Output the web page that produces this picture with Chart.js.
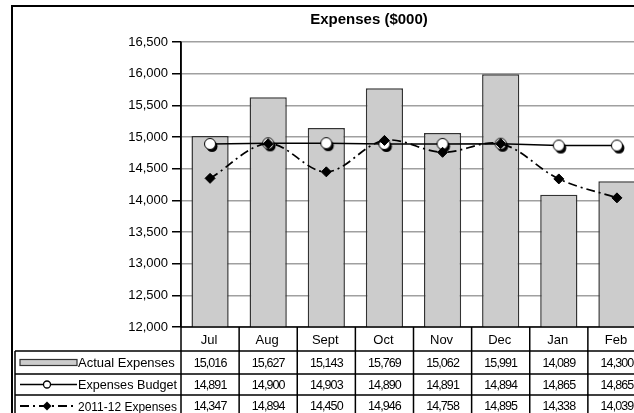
<!DOCTYPE html>
<html>
<head>
<meta charset="utf-8">
<script src="https://cdn.jsdelivr.net/npm/chart.js@4.4.0/dist/chart.umd.min.js"></script>
<style>
  html, body { margin: 0; padding: 0; background: #fff; overflow: hidden; }
  #wrap { width: 634px; height: 413px; overflow: hidden; }
  canvas { display: block; }
</style>
</head>
<body>
<div id="wrap"><canvas id="chart" width="660" height="413"></canvas></div>
<script>
const months = ["Jul", "Aug", "Sept", "Oct", "Nov", "Dec", "Jan", "Feb"];
const actualExpenses = [15016, 15627, 15143, 15769, 15062, 15991, 14089, 14300];
const expensesBudget = [14891, 14900, 14903, 14890, 14891, 14894, 14865, 14865];
const prevYearExpenses = [14347, 14894, 14450, 14946, 14758, 14895, 14338, 14039];
const seriesNames = ["Actual Expenses", "Expenses Budget", "2011-12 Expenses"];
const chartTitle = "Expenses ($000)";
const yMin = 12000, yMax = 16500, yStep = 500;

const FONT = "'Liberation Sans', Arial, sans-serif";
const BAR_FILL = "#cccccc";
const BAR_EDGE = "#333333";
const DASH = [9, 4, 2, 4];

function fmt(v) {
  return v.toLocaleString("en-US");
}

// white circle with a black drop shadow, like the Excel marker
function makeBudgetMarker() {
  const c = document.createElement("canvas");
  c.width = 20;
  c.height = 20;
  const g = c.getContext("2d");
  g.fillStyle = "#000";
  g.beginPath();
  g.arc(12, 12.5, 5.5, 0, Math.PI * 2);
  g.fill();
  g.fillStyle = "#fff";
  g.strokeStyle = "#000";
  g.lineWidth = 1;
  g.beginPath();
  g.arc(10, 10, 5.5, 0, Math.PI * 2);
  g.fill();
  g.stroke();
  return c;
}

const frameAndTitle = {
  id: "frameAndTitle",
  beforeDraw(chart) {
    const ctx = chart.ctx;
    ctx.save();
    ctx.fillStyle = "#fff";
    ctx.fillRect(0, 0, chart.width, chart.height);
    ctx.strokeStyle = "#000";
    ctx.lineWidth = 2;
    ctx.strokeRect(12, 6, chart.width + 20, chart.height + 20);
    ctx.fillStyle = "#000";
    ctx.font = "bold 15px " + FONT;
    ctx.textAlign = "center";
    ctx.textBaseline = "middle";
    ctx.fillText(chartTitle, 369, 20);
    ctx.restore();
  }
};

const dataTable = {
  id: "dataTable",
  afterDraw(chart) {
    const ctx = chart.ctx;
    const xs = chart.scales.x;
    const area = chart.chartArea;
    const colW = (area.right - area.left) / months.length;
    const rows = [area.bottom, area.bottom + 24, area.bottom + 47, area.bottom + 68, area.bottom + 90];
    const tableLeft = 15;
    const right = chart.width + 5;

    ctx.save();
    ctx.strokeStyle = "#000";
    ctx.lineWidth = 1.5;

    // horizontal rules
    ctx.beginPath();
    ctx.moveTo(area.left, rows[0]);
    ctx.lineTo(right, rows[0]);
    for (let r = 1; r < rows.length; r++) {
      ctx.moveTo(tableLeft, rows[r]);
      ctx.lineTo(right, rows[r]);
    }
    // vertical rules
    ctx.moveTo(tableLeft, rows[1]);
    ctx.lineTo(tableLeft, chart.height + 5);
    ctx.moveTo(area.left, area.top);
    ctx.lineTo(area.left, chart.height + 5);
    months.forEach((m, i) => {
      const bx = xs.getPixelForValue(i) + colW / 2;
      ctx.moveTo(bx, rows[0]);
      ctx.lineTo(bx, chart.height + 5);
    });
    ctx.stroke();

    // category row
    ctx.fillStyle = "#000";
    ctx.textAlign = "center";
    ctx.textBaseline = "middle";
    ctx.font = "13px " + FONT;
    months.forEach((m, i) => {
      ctx.fillText(m, xs.getPixelForValue(i) - 1, (rows[0] + rows[1]) / 2 + 1);
    });

    // value rows
    const series = [actualExpenses, expensesBudget, prevYearExpenses];
    ctx.font = "12.5px " + FONT;
    ctx.letterSpacing = "-0.9px";
    series.forEach((vals, r) => {
      const cy = (rows[r + 1] + rows[r + 2]) / 2 + 1;
      vals.forEach((v, i) => {
        ctx.fillText(fmt(v), xs.getPixelForValue(i), cy);
      });
    });
    ctx.letterSpacing = "0px";

    // legend keys + names
    const k0 = 20, k1 = 77, kc = 47;
    ctx.font = "13px " + FONT;
    ctx.textAlign = "left";
    seriesNames.forEach((name, r) => {
      const cy = (rows[r + 1] + rows[r + 2]) / 2;
      ctx.fillStyle = "#000";
      ctx.fillText(name, 78, cy + 1, 99);
      if (r === 0) {
        ctx.fillStyle = BAR_FILL;
        ctx.fillRect(k0, cy - 3, k1 - k0, 6);
        ctx.strokeStyle = BAR_EDGE;
        ctx.lineWidth = 1.2;
        ctx.strokeRect(k0, cy - 3, k1 - k0, 6);
      } else if (r === 1) {
        ctx.strokeStyle = "#000";
        ctx.lineWidth = 1.3;
        ctx.beginPath();
        ctx.moveTo(k0, cy);
        ctx.lineTo(k1, cy);
        ctx.stroke();
        ctx.fillStyle = "#fff";
        ctx.beginPath();
        ctx.arc(kc, cy, 3.5, 0, Math.PI * 2);
        ctx.fill();
        ctx.stroke();
      } else {
        ctx.strokeStyle = "#000";
        ctx.lineWidth = 1.8;
        ctx.setLineDash(DASH);
        ctx.beginPath();
        ctx.moveTo(k0, cy);
        ctx.lineTo(k1, cy);
        ctx.stroke();
        ctx.setLineDash([]);
        ctx.fillStyle = "#000";
        ctx.beginPath();
        ctx.moveTo(kc, cy - 4.5);
        ctx.lineTo(kc + 4.5, cy);
        ctx.lineTo(kc, cy + 4.5);
        ctx.lineTo(kc - 4.5, cy);
        ctx.closePath();
        ctx.fill();
      }
    });
    ctx.restore();
  }
};

new Chart(document.getElementById("chart"), {
  type: "bar",
  data: {
    labels: months,
    datasets: [
      {
        type: "line",
        label: seriesNames[2],
        data: prevYearExpenses,
        order: 1,
        borderColor: "#000",
        borderWidth: 1.7,
        borderDash: DASH,
        tension: 0.35,
        pointStyle: "rectRot",
        pointRadius: 5,
        pointBackgroundColor: "#000",
        pointBorderColor: "#000",
        pointBorderWidth: 1
      },
      {
        type: "line",
        label: seriesNames[1],
        data: expensesBudget,
        order: 2,
        borderColor: "#000",
        borderWidth: 1.5,
        tension: 0,
        pointStyle: makeBudgetMarker(),
        pointRadius: 6
      },
      {
        label: seriesNames[0],
        data: actualExpenses,
        order: 3,
        backgroundColor: BAR_FILL,
        borderColor: BAR_EDGE,
        borderWidth: 1.5,
        barPercentage: 0.64,
        categoryPercentage: 1
      }
    ]
  },
  options: {
    responsive: false,
    animation: false,
    events: [],
    layout: {
      padding: { top: 42, bottom: 86, left: 0, right: 14 }
    },
    plugins: {
      legend: { display: false },
      title: { display: false },
      tooltip: { enabled: false }
    },
    scales: {
      x: {
        display: false,
        offset: true
      },
      y: {
        min: yMin,
        max: yMax,
        afterFit(scale) {
          scale.width = 181;
        },
        border: { display: true, color: "#000", width: 1.5 },
        grid: {
          color: "#a0a0a0",
          lineWidth: 1.5,
          tickColor: "#000",
          tickLength: 9,
          tickWidth: 1.5
        },
        ticks: {
          stepSize: yStep,
          padding: 4,
          color: "#000",
          font: { family: FONT, size: 13 },
          callback: v => fmt(v)
        }
      }
    }
  },
  plugins: [frameAndTitle, dataTable]
});
</script>
</body>
</html>
